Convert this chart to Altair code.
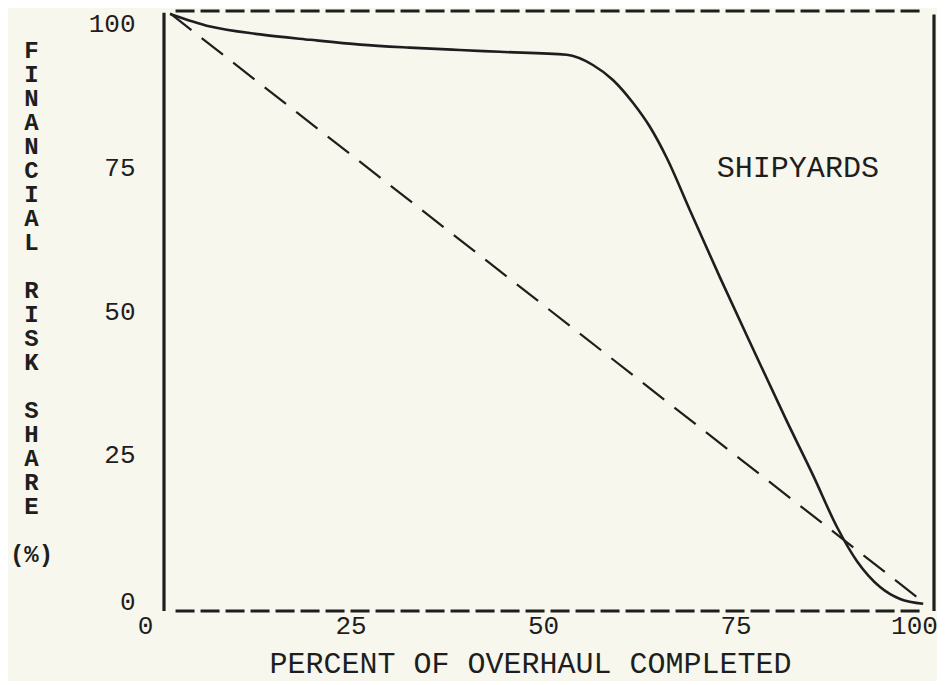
import altair as alt
import pandas as pd

FONT = "Liberation Mono"
INK = "#1e1e1e"

# ---- data ----
x_ticks = [0, 25, 50, 75, 100]
y_ticks = [0, 25, 50, 75, 100]

curve_x = [0.8, 6.0, 12.5, 19.0, 25.5, 31.9, 38.4, 43.6, 52.3, 55.7, 58.3, 60.9,
           63.1, 65.3, 68.3, 72.2, 77.0, 80.9, 84.3, 87.4, 90.0, 93.0, 95.6, 98.6]
curve_y = [99.5, 97.4, 96.1, 95.2, 94.4, 93.9, 93.5, 93.2, 92.7, 91.0, 88.5, 84.7,
           80.7, 75.5, 66.8, 55.6, 42.3, 31.6, 22.6, 14.0, 8.3, 4.0, 2.0, 1.2]

diag_x = [0.8, 98.8]
diag_y = [99.6, 1.3]

label_text = ["SHIPYARDS"]
label_x = [71.8]
label_y = [72.3]

# frame edges (data units)
hframe_y = [100, 0]
hframe_x = [1.5, 1.5]
hframe_x2 = [98.8, 98.8]
vframe_x = [0, 100]
vframe_y = [0, 0]
vframe_y2 = [99.7, 99.4]

BL = "\u200b"
y_title = ["F", "I", "N", "A", "N", "C", "I", "A", "L", BL,
           "R", "I", "S", "K", BL,
           "S", "H", "A", "R", "E", BL, "(%)"]

curve_df = pd.DataFrame({"x": curve_x, "y": curve_y})
diag_df = pd.DataFrame({"x": diag_x, "y": diag_y})
label_df = pd.DataFrame({"x": label_x, "y": label_y, "t": label_text})
hframe_df = pd.DataFrame({"x": hframe_x, "x2": hframe_x2, "y": hframe_y})
vframe_df = pd.DataFrame({"x": vframe_x, "y": vframe_y, "y2": vframe_y2})

xscale = alt.Scale(domain=[0, 100], nice=False, zero=False)
yscale = alt.Scale(domain=[0, 100], nice=False, zero=False)

xaxis = alt.Axis(
    values=x_ticks, title="PERCENT OF OVERHAUL COMPLETED",
    domain=False, ticks=False, grid=False,
    labelFont=FONT, labelFontSize=26, labelColor=INK, labelPadding=1,
    labelBaseline="top", labelFlush=False,
    labelOffset={"condition": [{"test": "datum.value == 0", "value": -19},
                               {"test": "datum.value == 100", "value": -20}],
                 "value": -6},
    titleFont=FONT, titleFontSize=30, titleColor=INK, titleFontWeight="normal",
    titleX=366, titleY=61, titleAlign="center", titleBaseline="alphabetic",
)
yaxis = alt.Axis(
    values=y_ticks, title=y_title,
    domain=False, ticks=False, grid=False,
    labelFont=FONT, labelFontSize=26, labelColor=INK, labelPadding=29,
    labelFlush=False,
    labelOffset={"condition": [{"test": "datum.value == 100", "value": 12},
                               {"test": "datum.value == 75", "value": 6},
                               {"test": "datum.value == 25", "value": -7},
                               {"test": "datum.value == 0", "value": -10}],
                 "value": 0},
    titleFont=FONT, titleFontSize=24, titleColor=INK, titleFontWeight="bold",
    titleAngle=0, titleX=-133, titleY=46, titleAlign="center",
    titleBaseline="alphabetic", titleLineHeight=24,
)

X = alt.X("x:Q", scale=xscale, axis=xaxis)
Y = alt.Y("y:Q", scale=yscale, axis=yaxis)

curve = alt.Chart(curve_df).mark_line(
    color=INK, strokeWidth=2.6, interpolate="monotone"
).encode(x=X, y=Y)

diag = alt.Chart(diag_df).mark_line(
    color=INK, strokeWidth=2.2, strokeDash=[27, 13]
).encode(x=X, y=Y)

hframe = alt.Chart(hframe_df).mark_rule(
    color=INK, strokeWidth=3, strokeDash=[19, 6]
).encode(x=X, x2="x2:Q", y=Y)

vframe = alt.Chart(vframe_df).mark_rule(
    color=INK, strokeWidth=3.2
).encode(x=X, y=Y, y2="y2:Q")

label = alt.Chart(label_df).mark_text(
    font=FONT, fontSize=30, color=INK, align="left", baseline="alphabetic"
).encode(x=X, y=Y, text="t:N")

chart = alt.layer(vframe, hframe, diag, curve, label).properties(
    width=770, height=600,
    autosize=alt.AutoSizeParams(type="none"),
    padding={"left": 156, "top": 3, "right": 3, "bottom": 70},
    background="#f7f7ed",
).configure_view(stroke=None)

chart.save("out.html", embed_options={"renderer": "svg", "actions": False})
